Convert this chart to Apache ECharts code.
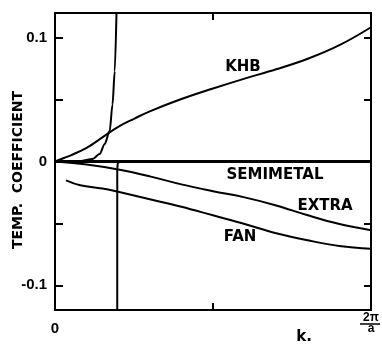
<!DOCTYPE html>
<html>
<head>
<meta charset="utf-8">
<script src="https://cdn.jsdelivr.net/npm/echarts@6/dist/echarts.min.js"></script>
<style>
html,body{margin:0;padding:0;background:#fff;}
#c{width:382px;height:345px;}
</style>
</head>
<body>
<div id="c"></div>
<script>
// ---- data (k in units of 2π/a, temperature coefficient) ----
const khbK = [0, 0.03, 0.05, 0.1, 0.15, 0.2, 0.25, 0.3, 0.4, 0.5, 0.6, 0.7, 0.8, 0.9, 1.0];
const khbV = [0, 0.003, 0.005, 0.011, 0.0195, 0.028, 0.0345, 0.0405, 0.0505, 0.059, 0.067, 0.0745, 0.083, 0.094, 0.1085];

const extraK = [0, 0.1, 0.2, 0.3, 0.4, 0.5, 0.6, 0.7, 0.8, 0.9, 1.0];
const extraV = [0, -0.0025, -0.0065, -0.012, -0.0185, -0.024, -0.029, -0.0355, -0.0435, -0.0505, -0.0555];

const fanK = [0.035, 0.08, 0.15, 0.2, 0.3, 0.4, 0.5, 0.6, 0.7, 0.8, 0.9, 1.0];
const fanV = [-0.0152, -0.0192, -0.0218, -0.0245, -0.0305, -0.0365, -0.0435, -0.0505, -0.058, -0.0637, -0.0683, -0.0706];

// semimetal: diverges near k ≈ 0.196
const semiLeftK = [0, 0.05, 0.08, 0.119, 0.141, 0.157, 0.173, 0.182, 0.189, 0.195];
const semiLeftV = [0, 0, 0.0003, 0.002, 0.006, 0.014, 0.0246, 0.046, 0.073, 0.125];
const semiRightK = [0.197, 0.197, 0.199, 0.21, 0.5, 1.0];
const semiRightV = [-0.13, -0.006, -0.001, 0, 0, 0];

const yTickValues = [-0.1, -0.05, 0, 0.05, 0.1];
const yLabelValues = [-0.1, 0, 0.1];
const yLabelText = {'-0.1': '-0.1', '0': '0', '0.1': '0.1'};
const xTickValues = [0.5];
const xLabelValues = [0, 1];
const xLabelText = ['0', '2π/a'];

const curveNames = ['KHB', 'SEMIMETAL', 'EXTRA', 'FAN'];
const yTitle = 'TEMP.  COEFFICIENT';
const xTitle = 'k.';

function zip(a, b) { return a.map((x, i) => [x, b[i]]); }

const chart = echarts.init(document.getElementById('c'), null, {renderer: 'canvas'});

const lineBase = {
  type: 'line', showSymbol: false, smooth: 0.4,
  clip: true, silent: true, animation: false,
  lineStyle: {color: '#000', width: 2}
};

const numFont = 'Liberation Sans';
const txtFont = 'DejaVu Sans';
const tickStyle = {color: '#000', width: 2};

chart.setOption({
  backgroundColor: '#fff',
  animation: false,
  grid: {left: 55, right: 11, top: 13, bottom: 35, show: true, borderColor: '#000', borderWidth: 2, backgroundColor: 'transparent'},
  xAxis: [
    {
      type: 'value', min: 0, max: 1, position: 'bottom',
      axisLine: {show: false, onZero: false}, splitLine: {show: false},
      axisTick: {show: true, inside: true, length: 7, lineStyle: tickStyle, customValues: xTickValues},
      axisLabel: {
        show: true, margin: 2, customValues: xLabelValues, color: '#000',
        formatter: function (v) {
          if (v === 0) return '{z|' + xLabelText[0] + '}';
          const parts = xLabelText[1].split('/');
          return '{n|' + parts[0] + '}\n{d|' + parts[1] + '}';
        },
        rich: {
          z: {fontFamily: numFont, fontWeight: 'bold', fontSize: 15, padding: [9, 0, 0, 0], color: '#000'},
          n: {fontFamily: numFont, fontWeight: 'bold', fontSize: 12, lineHeight: 11, color: '#000'},
          d: {fontFamily: numFont, fontWeight: 'bold', fontSize: 12, lineHeight: 12, color: '#000'}
        }
      }
    },
    {
      type: 'value', min: 0, max: 1, position: 'top',
      axisLine: {show: false, onZero: false}, splitLine: {show: false}, axisLabel: {show: false},
      axisTick: {show: true, inside: true, length: 7, lineStyle: tickStyle, customValues: xTickValues}
    }
  ],
  yAxis: [
    {
      type: 'value', min: -0.12, max: 0.12, position: 'left',
      axisLine: {show: false, onZero: false}, splitLine: {show: false},
      axisTick: {show: true, inside: true, length: 8, lineStyle: tickStyle, customValues: yTickValues},
      axisLabel: {
        show: true, margin: 8, customValues: yLabelValues, color: '#000',
        fontFamily: numFont, fontWeight: 'bold', fontSize: 15,
        formatter: v => yLabelText[String(Math.round(v * 100) / 100)]
      }
    },
    {
      type: 'value', min: -0.12, max: 0.12, position: 'right',
      axisLine: {show: false, onZero: false}, splitLine: {show: false}, axisLabel: {show: false},
      axisTick: {show: true, inside: true, length: 7, lineStyle: tickStyle, customValues: yTickValues}
    }
  ],
  series: [
    Object.assign({}, lineBase, {name: curveNames[0], data: zip(khbK, khbV)}),
    Object.assign({}, lineBase, {name: curveNames[1], smooth: 0.3, smoothMonotone: 'x', data: zip(semiLeftK, semiLeftV)}),
    Object.assign({}, lineBase, {name: curveNames[1] + ' ', smooth: 0.3, smoothMonotone: 'x', data: zip(semiRightK, semiRightV),
      markLine: {silent: true, symbol: 'none', label: {show: false}, animation: false,
        lineStyle: {color: '#000', width: 3, type: 'solid'}, data: [{yAxis: 0}]}}),
    Object.assign({}, lineBase, {name: curveNames[2], data: zip(extraK, extraV)}),
    Object.assign({}, lineBase, {name: curveNames[3], data: zip(fanK, fanV)})
  ],
  graphic: [
    {type: 'text', x: 18, y: 170, rotation: Math.PI / 2, style: {text: yTitle, fontFamily: txtFont, fontWeight: 'bold', fontSize: 14, fill: '#000', align: 'center', verticalAlign: 'middle'}},
    {type: 'text', x: 304, y: 337, style: {text: xTitle, fontFamily: txtFont, fontWeight: 'bold', fontSize: 15, fill: '#000', align: 'center', verticalAlign: 'middle'}},
    {type: 'line', shape: {x1: 360, y1: 324, x2: 380, y2: 324}, style: {stroke: '#000', lineWidth: 1.5}},
    {type: 'text', x: 243, y: 67.5, style: {text: curveNames[0], fontFamily: txtFont, fontWeight: 'bold', fontSize: 15, fill: '#000', align: 'center', verticalAlign: 'middle'}},
    {type: 'text', x: 275, y: 175, style: {text: curveNames[1], fontFamily: txtFont, fontWeight: 'bold', fontSize: 15, fill: '#000', align: 'center', verticalAlign: 'middle'}},
    {type: 'text', x: 325, y: 206.5, style: {text: curveNames[2], fontFamily: txtFont, fontWeight: 'bold', fontSize: 15, fill: '#000', align: 'center', verticalAlign: 'middle'}},
    {type: 'text', x: 240, y: 237.5, style: {text: curveNames[3], fontFamily: txtFont, fontWeight: 'bold', fontSize: 15, fill: '#000', align: 'center', verticalAlign: 'middle'}}
  ]
});
</script>
</body>
</html>
